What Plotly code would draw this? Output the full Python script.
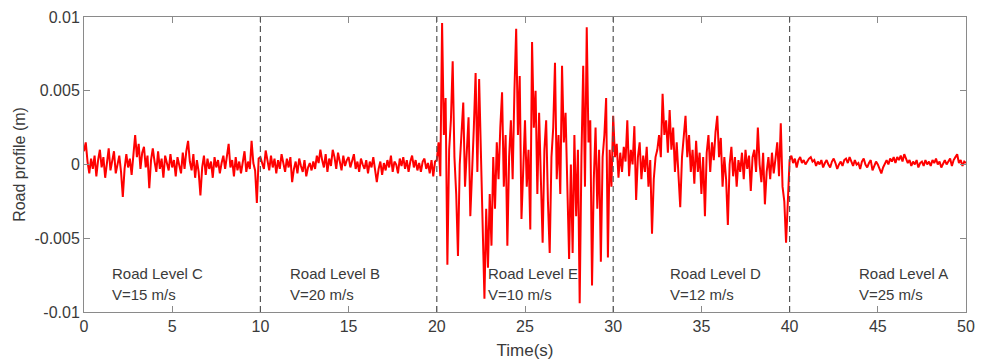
import plotly.graph_objects as go

# Road profile samples (mm), sampled every 0.1 s
level_C = [  # 0.0 - 9.9 s
    0.9, 1.5, 0.2, -0.6, 0.4, -0.3, 0.6, -0.8, 0.3, 1.0,
    -0.2, 0.5, -0.9, 0.2, 1.1, -0.4, 0.3, 0.9, -0.6, 0.1,
    0.6, -0.5, -2.2, -0.3, 0.7, -0.2, 0.4, -0.7, 1.0, 2.0,
    0.5, 1.4, -0.3, 0.8, 1.2, -0.2, 0.6, -1.6, 0.3, 1.1,
    0.2, -0.5, 0.9, -0.3, 0.4, -0.9, 0.6, 0.1, -0.4, 0.7,
    -0.2, 0.3, -0.8, 0.5, 0.0, -0.6, 0.8, -0.3, 0.9, 1.6,
    0.2, -0.4, 0.7, -0.9, 0.3, -0.5, -2.1, -0.2, 0.6, -0.7,
    0.4, -0.3, 0.2, -0.9, 0.5, -0.2, 0.3, -0.6, 0.1, 0.6,
    -0.3, 0.4, 1.4, -0.2, 0.3, -0.8, 0.5, -0.4, 0.2, -0.6,
    0.3, 0.9, -0.5, 0.2, -0.3, 1.6, 0.1, -0.4, -2.6, 0.4,
]
level_B = [  # 10.0 - 19.9 s
    0.5, 0.1, -0.3, 0.95, 0.2, -0.4, 0.6, -0.2, 0.4, -0.6,
    0.3, -0.3, 0.7, 0.0, -0.5, 0.4, -0.2, 0.5, -1.2, -0.3,
    0.2, -0.6, 0.4, -0.1, -0.5, 0.3, -0.8, -0.2, 0.1, -0.4,
    0.2, -0.3, 0.6, 0.1, 1.0, 0.3, -0.2, 0.7, -0.5, 0.4,
    -0.1, 1.0, 0.5, -0.3, 0.8, 0.2, -0.4, 0.6, -0.1, 0.3,
    0.5, -0.2, 0.3, 0.7, -0.3, 0.2, -0.5, 0.4, 0.0, -0.3,
    0.3, -0.6, 0.2, -0.2, 0.5, -0.4, -1.2, -0.3, 0.2, -0.7,
    0.1, -0.4, 0.3, -0.2, 0.6, -0.5, 0.2, 0.0, -0.6, 0.4,
    -0.1, 0.5, -0.3, 0.3, -0.5, 0.2, 0.6, -0.2, 0.3, -0.4,
    0.1, -0.5, 0.2, 0.4, -0.3, 0.1, -0.6, 0.3, -0.8, 0.2,
]
level_E = [  # 20.0 - 29.9 s
    0.3, 1.5, -0.8, 9.6, 2.0, 4.5, -6.8, 1.0, 3.0, 7.0,
    0.5, -2.0, -6.2, 0.0, 2.0, 4.2, -1.5, 0.8, 3.2, -3.5,
    -1.0, 2.5, 6.2, -0.5, 5.8, 1.0, -5.0, -9.1, -3.0, -7.0,
    -2.0, -5.5, 0.5, -3.0, 1.5, -1.0, 2.5, 4.9, -1.5, 2.0,
    -5.5, 0.5, 3.0, -1.0, 5.0, 9.2, 2.0, 6.0, -3.7, 0.5,
    3.0, -1.5, 1.0, -4.4, 8.3, 2.5, 5.0, -2.0, 3.5, -1.0,
    -5.3, 1.0, 3.0, -2.5, -6.0, 0.5, 2.5, 6.9, -1.0, 2.0,
    -2.0, 6.7, 1.5, 3.5, -2.0, -6.4, 0.0, -6.0, 2.0, -3.5,
    1.0, -9.4, 0.5, 6.7, -1.5, 9.3, 1.5, 3.0, -8.2, -1.0,
    2.5, -3.0, 1.0, -6.6, 0.5, 2.0, 4.5, -6.3, 1.0, -1.5,
]
level_D = [  # 30.0 - 39.9 s
    3.3, 0.5, 1.4, -0.9, 0.8, -0.5, 1.2, 0.2, 3.0, -0.8,
    1.0, 0.0, 2.6, -2.4, 0.5, 1.5, -1.0, 0.6, -0.5, 1.2,
    -1.5, 0.3, -4.7, -1.0, 0.5, 1.0, 2.0, 0.5, 4.8, 2.0,
    3.0, 0.8, 3.7, 1.0, 2.5, -0.5, 1.5, -0.8, -2.9, 0.5,
    1.8, 3.3, 0.5, 2.0, -0.5, 1.0, -1.3, 1.6, -0.5, 0.8,
    -2.0, 0.5, -3.5, 0.8, 2.0, -0.5, 1.5, 0.3, 2.2, 3.3,
    0.5, 1.8, -1.5, 0.5, -1.0, -4.1, 0.0, 1.2, -0.8, 0.5,
    -1.5, 0.3, -0.5, 0.8, -1.0, 1.0, -0.3, 0.6, -1.8, 0.5,
    1.0, -0.5, 2.5, 0.0, -1.2, 0.8, -2.7, -0.5, 0.5, -1.0,
    0.8, -0.6, 0.4, 1.5, -0.8, 2.8, -1.5, -2.5, -5.3, -2.0,
]
level_A = [  # 40.0 - 50.0 s
    0.3, 0.6, 0.1, 0.4, -0.2, 0.3, 0.5, 0.1, 0.3, 0.0,
    0.2, 0.4, 0.5, 0.2, 0.3, -0.1, 0.2, 0.0, 0.3, -0.2,
    0.1, 0.3, 0.0, -0.2, 0.2, 0.4, 0.1, -0.3, 0.0, 0.2,
    -0.1, 0.3, 0.4, 0.1, 0.5, 0.2, -0.1, 0.3, 0.0, 0.1,
    -0.3, 0.2, 0.4, 0.0, -0.2, 0.1, 0.3, -0.4, -0.1, 0.2,
    0.0, -0.3, -0.6, -0.2, 0.1, 0.3, 0.0, 0.4, 0.2, 0.5,
    0.1, 0.5, 0.3, 0.6, 0.2, 0.7, 0.4, 0.1, 0.3, -0.1,
    0.2, 0.0, 0.3, -0.2, 0.1, 0.2, -0.1, 0.3, 0.0, 0.2,
    -0.1, 0.3, 0.1, 0.4, 0.0, 0.2, -0.2, 0.1, 0.3, 0.0,
    0.2, 0.4, -0.1, 0.3, 0.5, 0.7, 0.1, 0.3, -0.1, 0.2,
    0.1,
]

sample_dt = 0.1
boundaries = [10, 20, 30, 40]
x_ticks = [0, 5, 10, 15, 20, 25, 30, 35, 40, 45, 50]
y_ticks = [-0.01, -0.005, 0, 0.005, 0.01]
y_tick_labels = ["-0.01", "-0.005", "0", "0.005", "0.01"]
section_names = ["Road Level C", "Road Level B", "Road Level E", "Road Level D", "Road Level A"]
section_speeds = ["V=15 m/s", "V=20 m/s", "V=10 m/s", "V=12 m/s", "V=25 m/s"]
label_x = [1.47, 11.56, 22.8, 33.1, 43.8]

profile_m = [v / 1000.0 for v in level_C + level_B + level_E + level_D + level_A]

FONT = "Liberation Sans, Arial, sans-serif"
TXT = "#3a3a3a"
AX = "#8a8a8a"

fig = go.Figure()
fig.add_trace(go.Scatter(
    y=profile_m, x0=0, dx=sample_dt, mode="lines",
    line=dict(color="#ff0000", width=2), showlegend=False,
))

for b in boundaries:
    fig.add_shape(type="line", x0=b, x1=b, y0=0, y1=1, xref="x", yref="paper",
                  line=dict(color="#555555", width=1.2, dash="6px,4px"))

for name, spd, lx in zip(section_names, section_speeds, label_x):
    fig.add_annotation(x=lx, y=-0.0074, xref="x", yref="y", text=name,
                       showarrow=False, xanchor="left", yanchor="middle",
                       font=dict(family=FONT, size=15, color=TXT))
    fig.add_annotation(x=lx, y=-0.0088, xref="x", yref="y", text=spd,
                       showarrow=False, xanchor="left", yanchor="middle",
                       font=dict(family=FONT, size=15, color=TXT))

axis_common = dict(showline=True, linecolor=AX, linewidth=1, mirror="ticks",
                   ticks="inside", ticklen=6, tickcolor=AX, tickwidth=1,
                   showgrid=False, zeroline=False, automargin=False,
                   tickfont=dict(family=FONT, size=16, color=TXT))

fig.update_xaxes(range=[0, 50], tickvals=x_ticks,
                 title=dict(text="Time(s)", font=dict(family=FONT, size=17, color=TXT), standoff=9),
                 **axis_common)
fig.update_yaxes(range=[-0.01, 0.01], tickvals=y_ticks, ticktext=y_tick_labels,
                 title=dict(text="Road profile (m)", font=dict(family=FONT, size=16, color=TXT), standoff=4),
                 **axis_common)

fig.update_layout(
    width=987, height=363,
    margin=dict(l=84, r=21, t=17, b=51),
    paper_bgcolor="white", plot_bgcolor="white",
    font=dict(family=FONT, color=TXT),
)

fig.write_html("out.html")
